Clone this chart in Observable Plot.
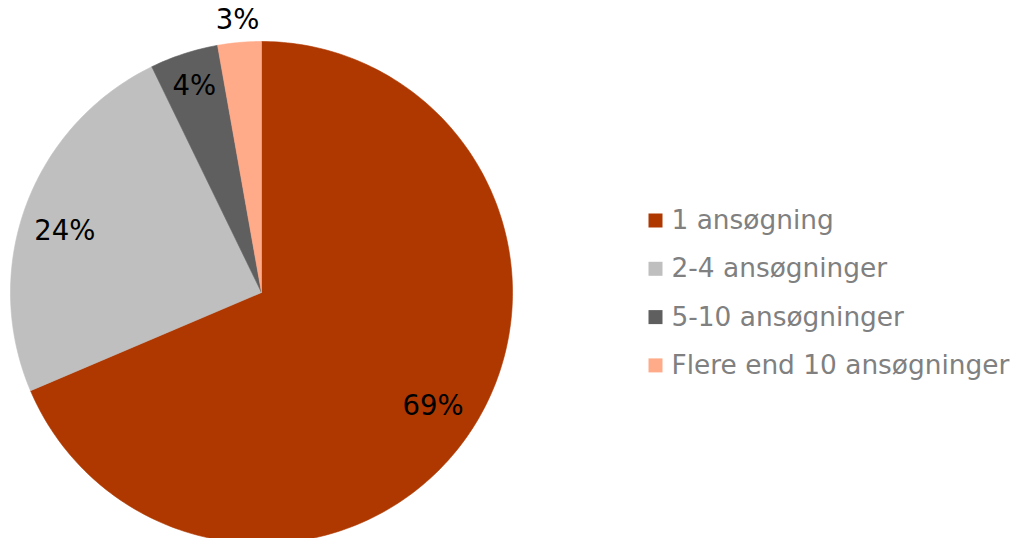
<!DOCTYPE html>
<html>
<head>
<meta charset="utf-8">
<script src="https://cdn.jsdelivr.net/npm/d3@7"></script>
<script src="https://cdn.jsdelivr.net/npm/@observablehq/plot@0.6"></script>
<style>
  html, body { margin: 0; padding: 0; background: #fff; }
  #chart svg { display: block; }
</style>
</head>
<body>
<div id="chart"></div>
<script>
// ---- data ----
const categories = ["1 ansøgning", "2-4 ansøgninger", "5-10 ansøgninger", "Flere end 10 ansøgninger"];
const shares = [68.6, 24.2, 4.4, 2.8];
const colors = ["#AE3800", "#BFBFBF", "#5F5F5F", "#FFAA88"];

// ---- layout ----
const W = 1016, H = 538;
const cx = 261, cy = 292, R = 251;           // pixel centre / radius of the pie
const px = (p) => (p - cx) / R;               // pixel -> data x
const py = (p) => (cy - p) / R;               // pixel -> data y
// label placement (radius as fraction of R, angular nudge in degrees) – "best fit" look
const labelRadius = [0.82, 0.82, 0.865, 1.09];
const labelNudge = [0, -3.3, 0, 0];

// build slice polygons (angles clockwise from 12 o'clock)
const total = d3.sum(shares);
const slices = [];
const labels = [];
let acc = 0;
categories.forEach((cat, i) => {
  const a0 = acc / total * 2 * Math.PI;
  acc += shares[i];
  const a1 = acc / total * 2 * Math.PI;
  const n = Math.max(4, Math.ceil((a1 - a0) / (Math.PI / 180)));
  slices.push({cat, x: 0, y: 0});
  for (let k = 0; k <= n; k++) {
    const a = a0 + (a1 - a0) * k / n;
    slices.push({cat, x: Math.sin(a), y: Math.cos(a)});
  }
  slices.push({cat, x: 0, y: 0});
  const am = (a0 + a1) / 2 + labelNudge[i] * Math.PI / 180;
  const rl = labelRadius[i];
  labels.push({cat, x: rl * Math.sin(am), y: rl * Math.cos(am), text: Math.round(shares[i] / total * 100) + "%"});
});

const legend = categories.map((cat, i) => ({cat, i}));
const legSwatchX = px(655), legTextX = px(671);
const legY = (i) => py(220 + i * 48.3);

const chart = Plot.plot({
  width: W,
  height: H,
  margin: 0,
  x: {domain: [px(0), px(W)], axis: null},
  y: {domain: [py(H), py(0)], axis: null},
  color: {domain: categories, range: colors},
  style: {fontFamily: "'DejaVu Sans', Verdana, sans-serif", background: "#fff"},
  marks: [
    Plot.line(slices, {x: "x", y: "y", z: "cat", fill: "cat", stroke: "cat", strokeWidth: 0.6, curve: "linear", clip: true}),
    Plot.text(labels, {x: "x", y: "y", text: "text", fill: "#000", fontSize: 27.5}),
    Plot.dot(legend, {x: legSwatchX, y: (d) => legY(d.i), symbol: "square", r: 7.9, fill: "cat", stroke: null}),
    Plot.text(legend, {x: legTextX, y: (d) => legY(d.i), text: "cat", textAnchor: "start", fill: "#808080", fontSize: 26.4})
  ]
});
document.getElementById("chart").appendChild(chart);
</script>
</body>
</html>
